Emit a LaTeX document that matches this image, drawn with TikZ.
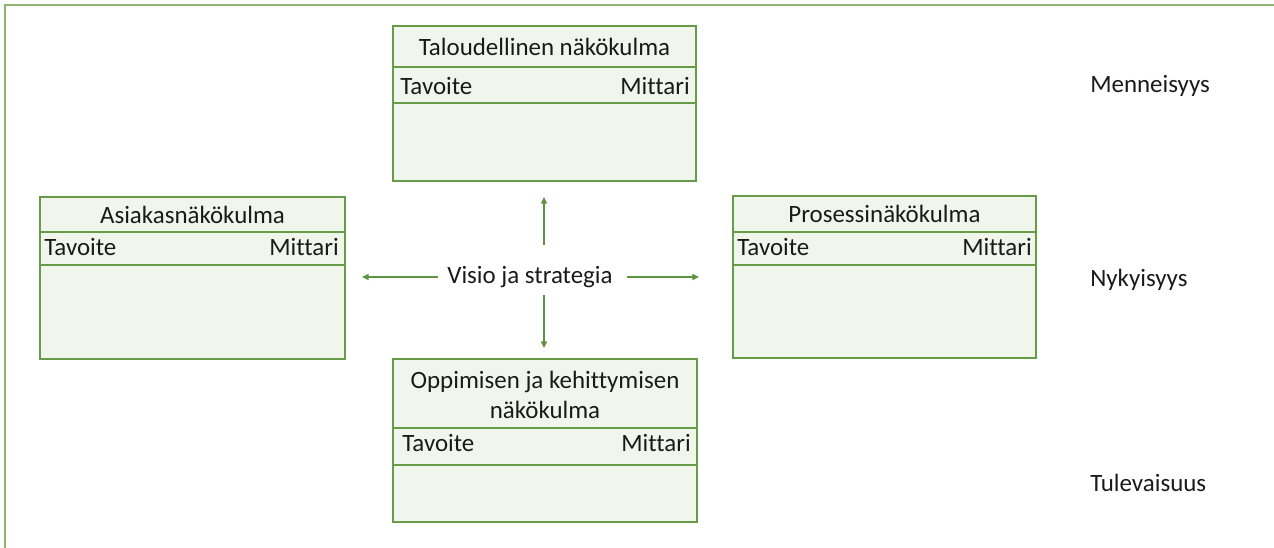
\documentclass[tikz,border=0pt]{standalone}
\usepackage{fontspec}
\setmainfont{Carlito}[Ligatures={NoCommon}]
\usetikzlibrary{arrows.meta}
\definecolor{framegreen}{HTML}{8DB570}
\definecolor{boxline}{HTML}{679B48}
\definecolor{boxfill}{HTML}{F0F6EC}
\definecolor{arrowgreen}{HTML}{5E9441}
\definecolor{txt}{HTML}{1A1A1A}
\tikzset{
  frameline/.style={framegreen, line width=2.2pt},
  panel/.style={draw=boxline, fill=boxfill, line width=1.1pt},
  panelline/.style={boxline, line width=1.1pt},
  paneltitle/.style={inner sep=0pt, text=txt, align=center},
  colleft/.style={inner sep=0pt, anchor=west, text=txt},
  colright/.style={inner sep=0pt, anchor=east, text=txt},
  timelabel/.style={inner sep=0pt, anchor=west, text=txt},
  flow/.style={arrowgreen, line width=1.1pt, -{Triangle[length=5pt,width=4.5pt]}}
}
\begin{document}
\begin{tikzpicture}[x=0.75pt, y=-0.75pt, font=\fontsize{18.7}{22.5}\selectfont]
\useasboundingbox (0,0) rectangle (1274,548);

% outer frame: only the top and left edges are visible
\draw[frameline] (5,548) -- (5,5) -- (1274,5);

% financial perspective (top)
\draw[panel] (393,26) rectangle (696,181);
\draw[panelline] (393,67) -- (696,67);
\draw[panelline] (393,103) -- (696,103);
\node[paneltitle] (tal) at (544.5,46.5) {Taloudellinen näkökulma};
\node[colleft] (tal-t) at (400,86) {Tavoite};
\node[colright] (tal-m) at (690,86) {Mittari};

% customer perspective (left)
\draw[panel] (40,197) rectangle (345,359);
\draw[panelline] (40,232) -- (345,232);
\draw[panelline] (40,265) -- (345,265);
\node[paneltitle] (asi) at (192.5,214.5) {Asiakasnäkökulma};
\node[colleft] (asi-t) at (44,247) {Tavoite};
\node[colright] (asi-m) at (339,247) {Mittari};

% process perspective (right)
\draw[panel] (733,196) rectangle (1036,358);
\draw[panelline] (733,232) -- (1036,232);
\draw[panelline] (733,265) -- (1036,265);
\node[paneltitle] (pro) at (884.5,214) {Prosessinäkökulma};
\node[colleft] (pro-t) at (737,247) {Tavoite};
\node[colright] (pro-m) at (1032,247) {Mittari};

% learning and growth perspective (bottom)
\draw[panel] (393,359) rectangle (697,522);
\draw[panelline] (393,428) -- (697,428);
\draw[panelline] (393,465) -- (697,465);
\node[paneltitle] (opp) at (545,395) {Oppimisen ja kehittymisen\\näkökulma};
\node[colleft] (opp-t) at (402,443) {Tavoite};
\node[colright] (opp-m) at (691,443) {Mittari};

% centre: vision and strategy with four arrows
\node[inner sep=0pt, text=txt] (vis) at (530,277) {Visio ja strategia};
\coordinate (up0) at (544,245);
\coordinate (up1) at (544,197);
\coordinate (dn0) at (544,295);
\coordinate (dn1) at (544,348);
\coordinate (lf0) at (438,277);
\coordinate (lf1) at (362,277);
\coordinate (rt0) at (627,277);
\coordinate (rt1) at (699,277);
\draw[flow] (up0) -- (up1);
\draw[flow] (dn0) -- (dn1);
\draw[flow] (lf0) -- (lf1);
\draw[flow] (rt0) -- (rt1);

% time axis labels
\node[timelabel] (men) at (1090,86) {Menneisyys};
\node[timelabel] (nyk) at (1090,280) {Nykyisyys};
\node[timelabel] (tul) at (1090,483) {Tulevaisuus};
\end{tikzpicture}
\end{document}
